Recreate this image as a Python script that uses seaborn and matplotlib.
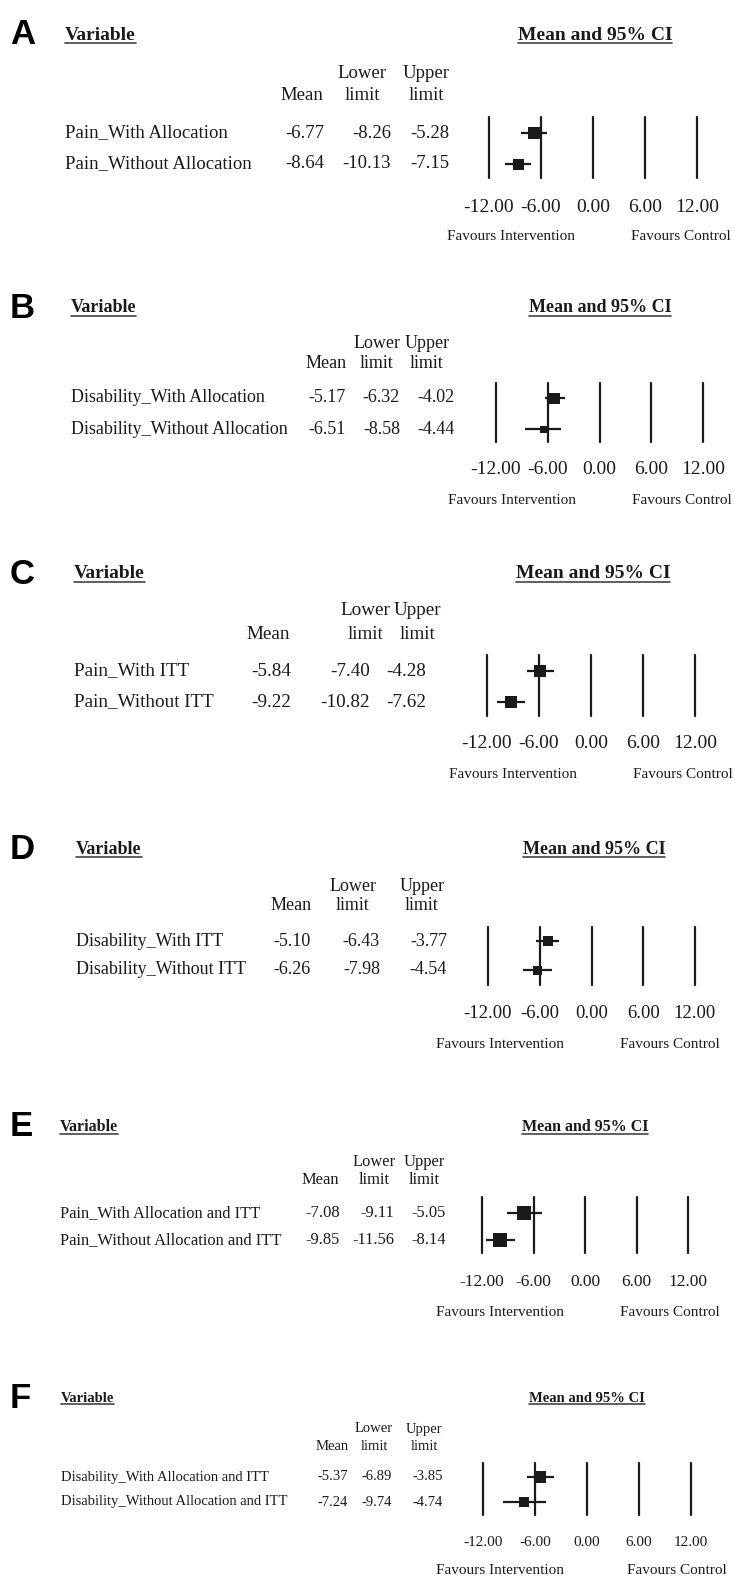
import numpy as np
import matplotlib.pyplot as plt
import matplotlib.transforms as mtransforms
from matplotlib.lines import Line2D
import seaborn as sns

# A - pain, allocation concealment
names_a = ['Pain_With Allocation', 'Pain_Without Allocation']
mean_a = [-6.77, -8.64]
lower_a = [-8.26, -10.13]
upper_a = [-5.28, -7.15]

# B - disability, allocation concealment
names_b = ['Disability_With Allocation', 'Disability_Without Allocation']
mean_b = [-5.17, -6.51]
lower_b = [-6.32, -8.58]
upper_b = [-4.02, -4.44]

# C - pain, ITT
names_c = ['Pain_With ITT', 'Pain_Without ITT']
mean_c = [-5.84, -9.22]
lower_c = [-7.40, -10.82]
upper_c = [-4.28, -7.62]

# D - disability, ITT
names_d = ['Disability_With ITT', 'Disability_Without ITT']
mean_d = [-5.10, -6.26]
lower_d = [-6.43, -7.98]
upper_d = [-3.77, -4.54]

# E - pain, allocation and ITT
names_e = ['Pain_With Allocation and ITT', 'Pain_Without Allocation and ITT']
mean_e = [-7.08, -9.85]
lower_e = [-9.11, -11.56]
upper_e = [-5.05, -8.14]

# F - disability, allocation and ITT
names_f = ['Disability_With Allocation and ITT', 'Disability_Without Allocation and ITT']
mean_f = [-5.37, -7.24]
lower_f = [-6.89, -9.74]
upper_f = [-3.85, -4.74]

ticks = [-12, -6, 0, 6, 12]
tick_labels = ['-12.00', '-6.00', '0.00', '6.00', '12.00']

panels = [
    ('A', names_a, mean_a, lower_a, upper_a),
    ('B', names_b, mean_b, lower_b, upper_b),
    ('C', names_c, mean_c, lower_c, upper_c),
    ('D', names_d, mean_d, lower_d, upper_d),
    ('E', names_e, mean_e, lower_e, upper_e),
    ('F', names_f, mean_f, lower_f, upper_f),
]

# layout in pixels (figure is 735 x 1577)
layout = {
    'A': dict(top_y=35, name_x=65, ci_x=595, hdr_y=(73, 95), rows=(133, 164), lines=(489, 697, 117, 178),
              tick_y=207, fav_y=237, fav_x=(511, 681), cols_hdr=(302, 362, 426), cols_val=(324, 391, 449),
              fs=13.5, hfs=14, tfs=14, ms=(12, 11)),
    'B': dict(top_y=308, name_x=71, ci_x=600, hdr_y=(343, 364), rows=(398, 429), lines=(496, 703, 383, 442),
              tick_y=470, fav_y=500, fav_x=(512, 682), cols_hdr=(326, 377, 427), cols_val=(346, 400, 455),
              fs=13, hfs=13, tfs=14, ms=(11, 7)),
    'C': dict(top_y=574, name_x=74, ci_x=593, hdr_y=(611, 634), rows=(671, 702), lines=(487, 695, 655, 716),
              tick_y=743, fav_y=775, fav_x=(513, 683), cols_hdr=(268, 365, 417), cols_val=(291, 370, 426),
              fs=13.8, hfs=14, tfs=14, ms=(12, 12)),
    'D': dict(top_y=850, name_x=76, ci_x=594, hdr_y=(886, 906), rows=(941, 970), lines=(488, 695, 927, 985),
              tick_y=1013, fav_y=1045, fav_x=(500, 670), cols_hdr=(291, 353, 422), cols_val=(311, 380, 447),
              fs=13, hfs=13, tfs=13.5, ms=(10, 9)),
    'E': dict(top_y=1127, name_x=60, ci_x=585, hdr_y=(1162, 1180), rows=(1213, 1240), lines=(482, 688, 1197, 1253),
              tick_y=1282, fav_y=1312, fav_x=(500, 670), cols_hdr=(320, 374, 424), cols_val=(340, 394, 446),
              fs=11.9, hfs=11.5, tfs=12.5, ms=(14, 14)),
    'F': dict(top_y=1398, name_x=61, ci_x=587, hdr_y=(1429, 1447), rows=(1477, 1502), lines=(483, 691, 1463, 1515),
              tick_y=1542, fav_y=1570, fav_x=(500, 677), cols_hdr=(332, 374, 424), cols_val=(348, 392, 443),
              fs=10.5, hfs=10.5, tfs=11, ms=(12, 10)),
}

W, H = 735, 1577
ink = '#1a1a1a'

sns.set_theme(style='white')
plt.rcParams['font.family'] = ['Liberation Serif', 'DejaVu Serif']

fig = plt.figure(figsize=(W / 100, H / 100), dpi=100)


def fx(x):
    return x / W


def fy(y):
    return 1 - y / H


underlined = []

for letter, names, means, lows, highs in panels:
    L = layout[letter]
    x0, x1, ytop, ybot = L['lines']
    ax = fig.add_axes([fx(x0), fy(ybot), (x1 - x0) / W, (ybot - ytop) / H])

    r0, r1 = L['rows']
    step = r1 - r0
    ax.set_xlim(-12, 12)
    ax.set_ylim(1 + (ybot - r1) / step, -(r0 - ytop) / step)

    for t in ticks:
        ax.axvline(t, color=ink, lw=1.6, clip_on=False)

    rows = np.arange(len(names))
    ax.hlines(rows, lows, highs, color=ink, lw=1.6, zorder=3)
    sizes = [(m * 0.72) ** 2 for m in L['ms']]
    sns.scatterplot(x=means, y=rows, ax=ax, marker='s', s=sizes, color=ink,
                    edgecolor=ink, linewidth=0, zorder=4, legend=False)

    ax.set_xticks(ticks, labels=tick_labels)
    ax.tick_params(axis='x', length=0, labelsize=L['tfs'], pad=(L['tick_y'] - ybot) * 0.72, colors=ink)
    for lbl in ax.get_xticklabels():
        lbl.set_va('center')
    ax.set_yticks([])
    sns.despine(ax=ax, left=True, bottom=True)
    ax.set_facecolor('none')

    # favours labels under the scale
    fav = mtransforms.blended_transform_factory(fig.transFigure, fig.transFigure)
    fig.text(fx(L['fav_x'][0]), fy(L['fav_y']), 'Favours Intervention', ha='center', va='center',
             fontsize=11, color=ink)
    fig.text(fx(L['fav_x'][1]), fy(L['fav_y']), 'Favours Control', ha='center', va='center',
             fontsize=11, color=ink)

    # panel letter and headings
    fig.text(fx(10), fy(L['top_y']), letter, ha='left', va='center', fontsize=25, fontweight='bold',
             family=['Liberation Sans', 'DejaVu Sans'], color='black')
    t1 = fig.text(fx(L['name_x']), fy(L['top_y']), 'Variable', ha='left', va='center',
                  fontsize=L['hfs'], fontweight='bold', color=ink)
    t2 = fig.text(fx(L['ci_x']), fy(L['top_y']), 'Mean and 95% CI', ha='center', va='center',
                  fontsize=L['hfs'], fontweight='bold', color=ink)
    underlined += [t1, t2]

    # column headers
    h1, h2 = L['hdr_y']
    ch = L['cols_hdr']
    fig.text(fx(ch[0]), fy(h2), 'Mean', ha='center', va='center', fontsize=L['fs'], color=ink)
    fig.text(fx(ch[1]), fy(h1), 'Lower', ha='center', va='center', fontsize=L['fs'], color=ink)
    fig.text(fx(ch[1]), fy(h2), 'limit', ha='center', va='center', fontsize=L['fs'], color=ink)
    fig.text(fx(ch[2]), fy(h1), 'Upper', ha='center', va='center', fontsize=L['fs'], color=ink)
    fig.text(fx(ch[2]), fy(h2), 'limit', ha='center', va='center', fontsize=L['fs'], color=ink)

    # row labels and values, placed on the axes' own row scale
    rowtrans = mtransforms.blended_transform_factory(fig.transFigure, ax.transData)
    cv = L['cols_val']
    for i, name in enumerate(names):
        ax.text(fx(L['name_x']), i, name, transform=rowtrans, ha='left', va='center',
                fontsize=L['fs'], color=ink)
        for col, val in zip(cv, (means[i], lows[i], highs[i])):
            ax.text(fx(col), i, f'{val:.2f}', transform=rowtrans, ha='right', va='center',
                    fontsize=L['fs'], color=ink)

# underline the headings
fig.canvas.draw()
renderer = fig.canvas.get_renderer()
inv = fig.transFigure.inverted()
for t in underlined:
    bb = t.get_window_extent(renderer)
    (a0, b0), (a1, _) = inv.transform([(bb.x0, bb.y0 + 1), (bb.x1, bb.y0 + 1)])
    fig.add_artist(Line2D([a0, a1], [b0, b0], transform=fig.transFigure, color='#444444', lw=1.2))

fig.savefig('out.png', dpi=100, facecolor='white')
